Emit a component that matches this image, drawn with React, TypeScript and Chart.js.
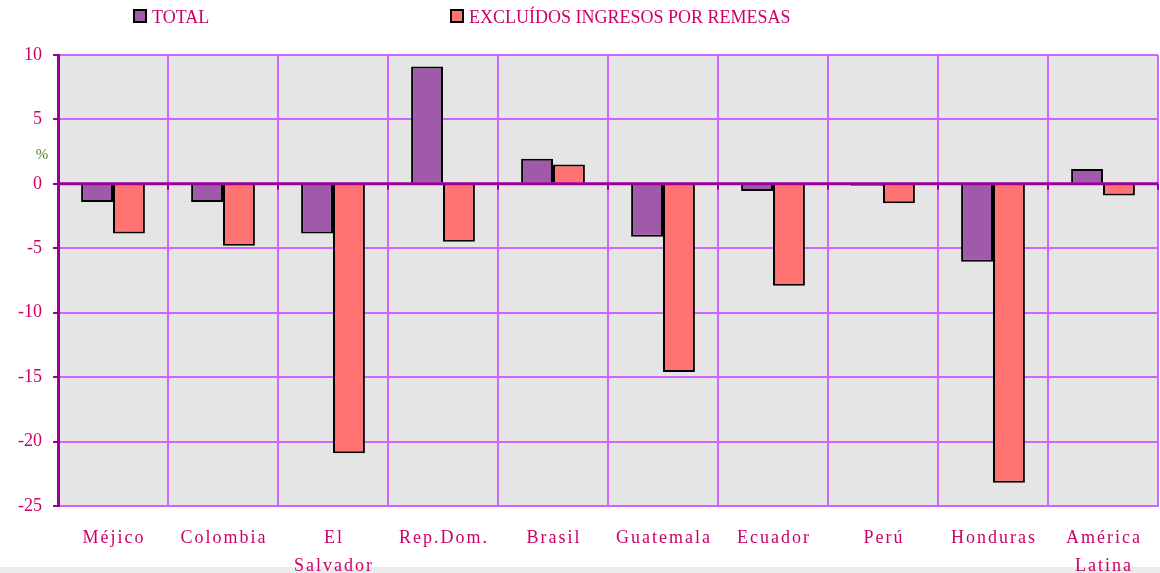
import React, { useEffect, useRef } from "react";
import { Chart, registerables } from "chart.js";

Chart.register(...registerables);

const categories: string[][] = [
  ["Méjico"],
  ["Colombia"],
  ["El", "Salvador"],
  ["Rep.Dom."],
  ["Brasil"],
  ["Guatemala"],
  ["Ecuador"],
  ["Perú"],
  ["Honduras"],
  ["América", "Latina"],
];
const seriesNames = ["TOTAL", "EXCLUÍDOS INGRESOS POR REMESAS"];
const totalValues = [-1.4, -1.4, -3.85, 9.1, 1.95, -4.1, -0.55, -0.15, -6.05, 1.15];
const exclValues = [-3.85, -4.8, -20.9, -4.5, 1.5, -14.6, -7.9, -1.5, -23.2, -0.9];
const yMin = -25;
const yMax = 10;
const yStep = 5;
const yUnit = "%";

const TEXT = "#CC0066";
const GRID = "#CC66FF";
const AXIS = "#990099";
const FONT = "'Liberation Serif', 'Times New Roman', serif";

export default function App() {
  const ref = useRef<HTMLCanvasElement | null>(null);
  useEffect(() => {
    if (!ref.current) return;
    const customPlugin = {
      id: "custom",
      beforeDraw(chart: any) {
        const { ctx, chartArea } = chart;
        ctx.save();
        ctx.fillStyle = "#E5E5E5";
        ctx.fillRect(chartArea.left, chartArea.top, chartArea.right - chartArea.left, chartArea.bottom - chartArea.top);
        ctx.restore();
      },
      afterDatasetsDraw(chart: any) {
        const { ctx, chartArea, scales } = chart;
        const y0 = scales.y.getPixelForValue(0);
        ctx.save();
        ctx.strokeStyle = AXIS;
        ctx.lineWidth = 3;
        ctx.beginPath();
        ctx.moveTo(chartArea.left, y0);
        ctx.lineTo(chartArea.right, y0);
        ctx.stroke();
        ctx.lineWidth = 2;
        const xs = scales.x;
        for (let i = 0; i <= categories.length; i++) {
          const px = Math.round(xs.getPixelForValue(i - 0.5));
          ctx.beginPath();
          ctx.moveTo(px, y0);
          ctx.lineTo(px, y0 + 6);
          ctx.stroke();
        }
        ctx.restore();
      },
      afterDraw(chart: any) {
        const { ctx, scales, chartArea } = chart;
        ctx.save();
        ctx.fillStyle = TEXT;
        ctx.font = `18px ${FONT}`;
        ctx.textAlign = "center";
        ctx.textBaseline = "alphabetic";
        try { (ctx as any).letterSpacing = "2px"; } catch (e) {}
        categories.forEach((lines, i) => {
          const cx = scales.x.getPixelForValue(i);
          lines.forEach((ln, j) => {
            ctx.fillText(ln, cx + 1, chartArea.bottom + 37 + j * 28);
          });
        });
        try { (ctx as any).letterSpacing = "0px"; } catch (e) {}
        ctx.fillStyle = "#4E7A27";
        ctx.font = `15px ${FONT}`;
        ctx.textAlign = "center";
        ctx.fillText(yUnit, 42, 159);
        ctx.restore();
      },
    };
    const chart = new Chart(ref.current, {
      type: "bar",
      data: {
        labels: categories.map((c) => c.join(" ")),
        datasets: [
          {
            label: seriesNames[0],
            data: totalValues,
            backgroundColor: "#A05AAA",
            borderColor: "#000000",
            borderWidth: 2,
            categoryPercentage: 0.58,
            barPercentage: 1,
          },
          {
            label: seriesNames[1],
            data: exclValues,
            backgroundColor: "#FF7373",
            borderColor: "#000000",
            borderWidth: 2,
            categoryPercentage: 0.58,
            barPercentage: 1,
          },
        ],
      },
      options: {
        animation: false,
        responsive: false,
        maintainAspectRatio: false,
        layout: { padding: { top: 55, right: 2, left: 0, bottom: 0 } },
        plugins: { legend: { display: false }, tooltip: { enabled: false } },
        scales: {
          x: {
            grid: { color: GRID, lineWidth: 2, offset: true, drawTicks: false },
            border: { color: GRID, width: 2 },
            ticks: { display: false },
            afterFit: (s: any) => { s.height = 67; },
          },
          y: {
            min: yMin,
            max: yMax,
            ticks: {
              stepSize: yStep,
              color: TEXT,
              font: { family: FONT, size: 18 },
              padding: 11,
            },
            grid: { color: GRID, lineWidth: 2, tickLength: 5, tickColor: AXIS, tickWidth: 2 },
            border: { color: AXIS, width: 3 },
            afterFit: (s: any) => { s.width = 58; },
          },
        },
      },
      plugins: [customPlugin],
    });
    return () => chart.destroy();
  }, []);

  const sq = (color: string) => (
    <span
      style={{
        display: "inline-block",
        width: 10,
        height: 10,
        background: color,
        border: "2px solid #000",
        marginRight: 5,
        verticalAlign: "middle",
        position: "relative",
        top: -3,
      }}
    />
  );

  return (
    <div style={{ position: "fixed", left: 0, top: 0, width: 1160, height: 573, background: "#fff", overflow: "hidden" }}>
      <div style={{ position: "absolute", left: 0, top: 567, width: 1160, height: 6, background: "#EBEBEB" }} />
      <canvas ref={ref} width={1160} height={573} style={{ position: "absolute", left: 0, top: 0 }} />
      <div style={{ position: "absolute", left: 133, top: 7, fontFamily: FONT, fontSize: 18, color: TEXT, whiteSpace: "nowrap" }}>
        {sq("#A05AAA")}{seriesNames[0]}
      </div>
      <div style={{ position: "absolute", left: 450, top: 7, fontFamily: FONT, fontSize: 18, color: TEXT, whiteSpace: "nowrap" }}>
        {sq("#FF7373")}{seriesNames[1]}
      </div>
    </div>
  );
}
